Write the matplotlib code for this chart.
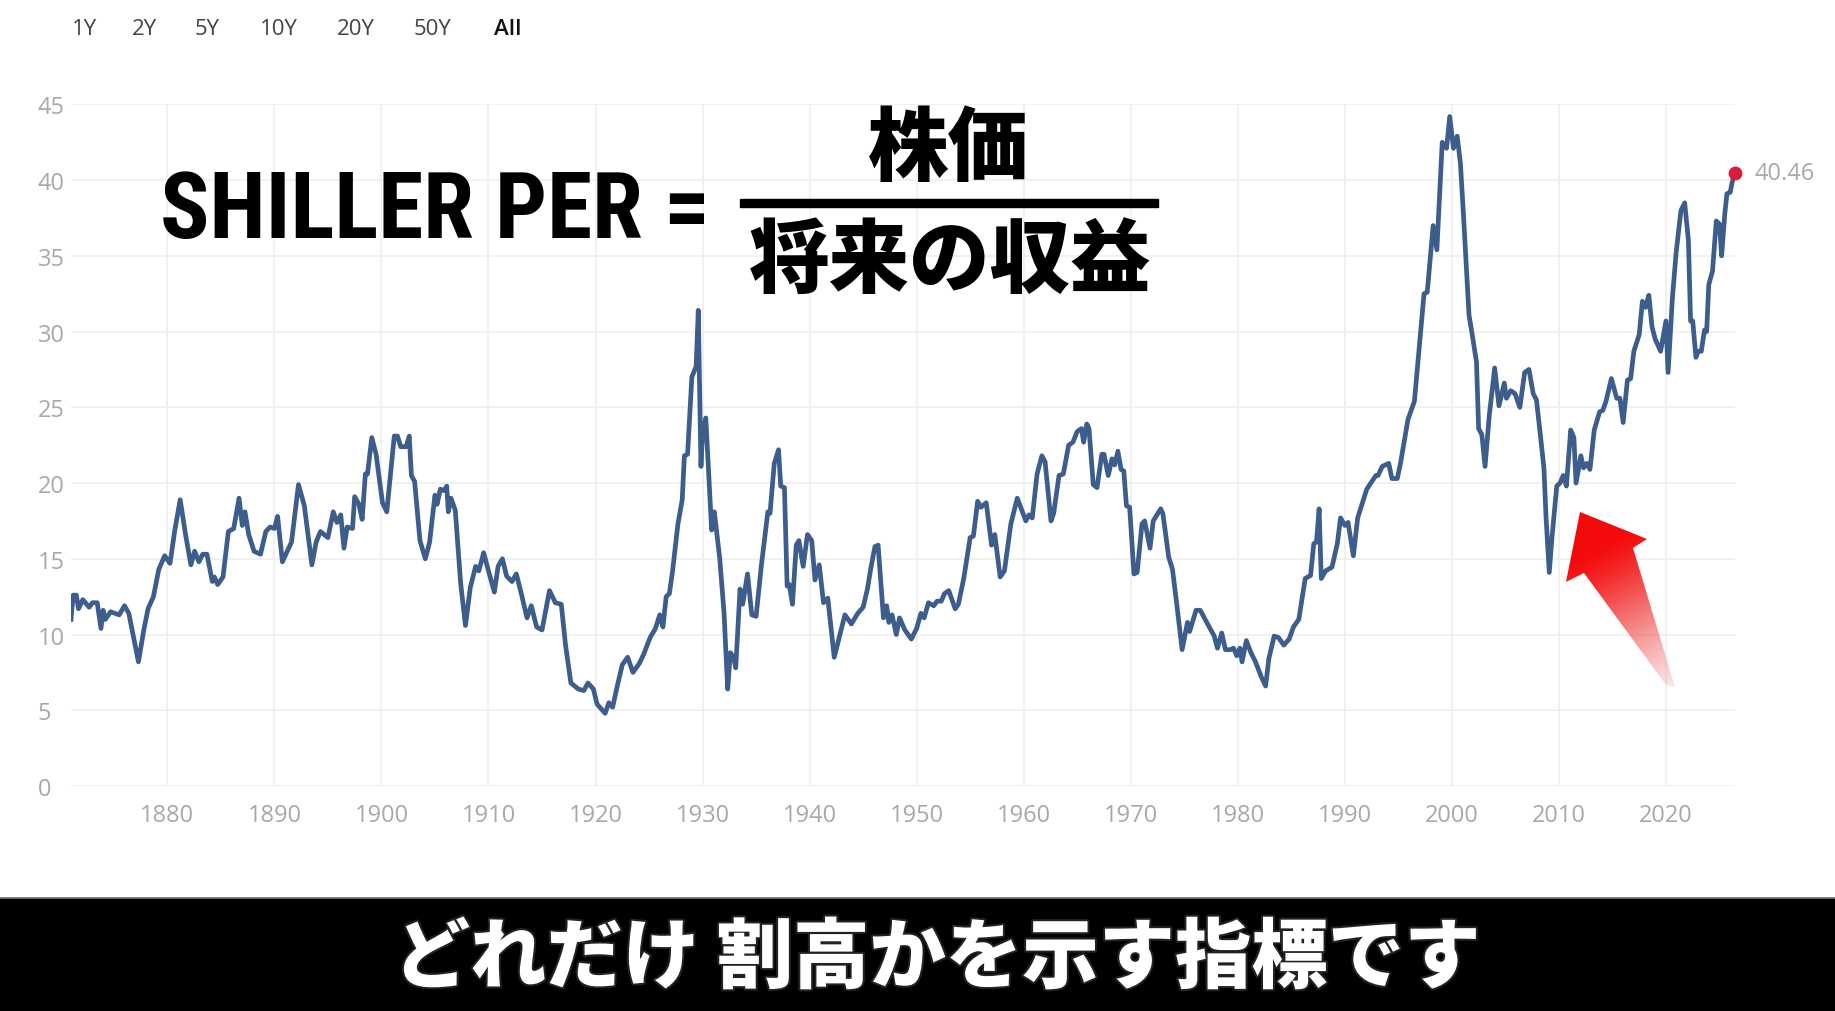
import matplotlib
matplotlib.use("Agg")
import matplotlib.pyplot as plt
import matplotlib.patheffects as pe
import numpy as np
from matplotlib.patches import Polygon, Rectangle

# Shiller CAPE (decimal year, value)
cape_years = [
    1871.0, 1871.2, 1871.5, 1871.7, 1872.1, 1872.7, 1873.0, 1873.45, 1873.8, 1874.0,
    1874.2, 1874.7, 1875.5, 1876.0, 1876.4, 1877.3, 1877.8, 1878.2, 1878.7, 1879.2,
    1879.75, 1880.25, 1880.7, 1881.2, 1881.7, 1882.2, 1882.55, 1882.95, 1883.3, 1883.7,
    1884.2, 1884.4, 1884.7, 1885.2, 1885.7, 1886.2, 1886.7, 1887.0, 1887.25, 1887.6,
    1888.1, 1888.7, 1889.2, 1889.6, 1890.0, 1890.3, 1890.75, 1891.2, 1891.6, 1892.25,
    1892.8, 1893.5, 1893.9, 1894.3, 1895.0, 1895.5, 1895.85, 1896.2, 1896.5, 1896.8,
    1897.3, 1897.5, 1897.9, 1898.2, 1898.5, 1898.7, 1899.1, 1899.5, 1900.1, 1900.5,
    1901.2, 1901.5, 1901.8, 1902.3, 1902.6, 1902.8, 1903.1, 1903.6, 1904.1, 1904.5,
    1905.0, 1905.2, 1905.5, 1905.85, 1906.1, 1906.25, 1906.5, 1906.9, 1907.4, 1907.85,
    1908.3, 1908.8, 1909.1, 1909.55, 1910.0, 1910.55, 1910.9, 1911.3, 1911.7, 1912.2,
    1912.6, 1913.0, 1913.6, 1914.0, 1914.5, 1915.0, 1915.7, 1916.25, 1916.8, 1917.2,
    1917.7, 1918.4, 1918.9, 1919.3, 1919.8, 1920.15, 1920.9, 1921.25, 1921.6, 1922.0,
    1922.5, 1923.0, 1923.5, 1924.1, 1924.5, 1925.1, 1925.6, 1926.0, 1926.3, 1926.6,
    1926.9, 1927.2, 1927.7, 1928.1, 1928.3, 1928.6, 1929.0, 1929.4, 1929.6, 1929.85,
    1930.0, 1930.3, 1930.85, 1931.1, 1931.6, 1932.0, 1932.35, 1932.6, 1932.9, 1933.1,
    1933.5, 1933.75, 1934.2, 1934.6, 1935.0, 1935.5, 1936.1, 1936.3, 1936.7, 1937.1,
    1937.3, 1937.65, 1937.9, 1938.1, 1938.4, 1938.75, 1939.0, 1939.4, 1939.8, 1940.2,
    1940.5, 1940.9, 1941.3, 1941.7, 1942.3, 1942.8, 1943.3, 1943.9, 1944.5, 1945.0,
    1945.4, 1945.7, 1946.1, 1946.4, 1946.9, 1947.2, 1947.4, 1947.7, 1948.1, 1948.4,
    1948.9, 1949.5, 1950.0, 1950.4, 1950.7, 1951.1, 1951.6, 1951.9, 1952.3, 1952.6,
    1953.0, 1953.6, 1953.9, 1954.4, 1955.0, 1955.3, 1955.7, 1956.0, 1956.5, 1957.0,
    1957.3, 1957.8, 1958.2, 1958.8, 1959.4, 1960.2, 1960.5, 1960.8, 1961.25, 1961.7,
    1962.0, 1962.55, 1962.8, 1963.3, 1963.7, 1964.2, 1964.6, 1965.0, 1965.4, 1965.6,
    1965.9, 1966.1, 1966.5, 1966.85, 1967.3, 1967.5, 1967.9, 1968.25, 1968.5, 1968.8,
    1969.1, 1969.35, 1969.6, 1969.9, 1970.3, 1970.6, 1971.05, 1971.3, 1971.8, 1972.1,
    1972.8, 1973.0, 1973.55, 1973.9, 1974.3, 1974.8, 1975.3, 1975.5, 1976.1, 1976.5,
    1977.1, 1977.8, 1978.1, 1978.5, 1978.85, 1979.3, 1979.6, 1979.9, 1980.2, 1980.4,
    1980.8, 1981.2, 1981.65, 1982.2, 1982.6, 1982.9, 1983.4, 1983.8, 1984.3, 1984.8,
    1985.2, 1985.7, 1986.3, 1986.8, 1987.1, 1987.35, 1987.6, 1987.8, 1988.2, 1988.8,
    1989.3, 1989.6, 1990.0, 1990.3, 1990.8, 1991.2, 1991.6, 1992.05, 1992.9, 1993.1,
    1993.5, 1994.1, 1994.4, 1994.9, 1995.2, 1995.9, 1996.5, 1997.0, 1997.4, 1997.7,
    1998.25, 1998.6, 1999.1, 1999.5, 1999.8, 2000.15, 2000.5, 2000.8, 2001.1, 2001.6,
    2001.9, 2002.3, 2002.5, 2002.8, 2003.1, 2003.5, 2004.0, 2004.4, 2004.9, 2005.1,
    2005.5, 2005.9, 2006.35, 2006.8, 2007.2, 2007.6, 2007.9, 2008.2, 2008.6, 2008.8,
    2009.1, 2009.35, 2009.8, 2010.1, 2010.4, 2010.7, 2011.1, 2011.4, 2011.6, 2012.05,
    2012.3, 2012.6, 2012.9, 2013.3, 2013.8, 2014.1, 2014.4, 2014.9, 2015.4, 2015.7,
    2016.0, 2016.4, 2016.7, 2017.0, 2017.5, 2017.8, 2018.1, 2018.4, 2018.7, 2019.0,
    2019.5, 2020.0, 2020.2, 2020.6, 2020.95, 2021.4, 2021.75, 2022.1, 2022.3, 2022.5,
    2022.8, 2023.0, 2023.3, 2023.6, 2023.8, 2024.0, 2024.35, 2024.7, 2025.0, 2025.2,
    2025.5, 2025.7, 2026.0, 2026.2, 2026.45,
]
cape_values = [
    11.0, 12.6, 12.6, 11.7, 12.3, 11.8, 12.1, 12.1, 10.4, 11.6,
    11.0, 11.5, 11.3, 11.9, 11.4, 8.2, 10.3, 11.7, 12.5, 14.3,
    15.2, 14.7, 16.9, 18.9, 16.6, 14.6, 15.5, 14.8, 15.3, 15.3,
    13.5, 13.8, 13.3, 13.8, 16.8, 17.0, 19.0, 17.2, 18.1, 16.6,
    15.5, 15.3, 16.8, 17.1, 17.0, 17.8, 14.8, 15.5, 16.1, 19.9,
    18.5, 14.6, 16.1, 16.8, 16.4, 18.1, 17.4, 17.9, 15.7, 17.1,
    17.0, 19.1, 18.6, 17.6, 20.6, 20.6, 23.0, 21.9, 18.7, 18.1,
    23.1, 23.1, 22.4, 22.4, 23.1, 20.5, 20.1, 16.2, 15.0, 16.1,
    19.2, 18.6, 19.6, 19.5, 19.8, 18.1, 19.0, 18.2, 13.4, 10.6,
    13.1, 14.5, 14.2, 15.4, 14.2, 12.8, 14.5, 15.0, 13.85, 13.5,
    14.0, 12.9, 11.1, 11.9, 10.5, 10.3, 12.9, 12.1, 12.0, 9.3,
    6.8, 6.4, 6.3, 6.8, 6.4, 5.4, 4.8, 5.5, 5.2, 6.5,
    8.0, 8.5, 7.5, 8.1, 8.7, 9.8, 10.4, 11.3, 10.5, 12.5,
    12.7, 14.2, 17.3, 18.9, 21.8, 21.9, 27.0, 27.7, 31.4, 21.1,
    23.3, 24.3, 16.9, 18.1, 15.05, 11.5, 6.4, 8.8, 8.5, 7.8,
    13.0, 12.0, 14.0, 11.3, 11.2, 14.6, 18.1, 18.0, 21.3, 22.2,
    19.8, 19.7, 13.2, 13.3, 12.0, 15.9, 16.2, 14.5, 16.6, 16.2,
    13.6, 14.6, 12.1, 12.4, 8.5, 9.9, 11.3, 10.7, 11.4, 11.8,
    13.0, 14.3, 15.8, 15.9, 11.1, 11.9, 10.8, 11.3, 10.0, 11.1,
    10.3, 9.7, 10.4, 11.4, 11.1, 12.1, 11.9, 12.2, 12.2, 12.7,
    12.9, 11.7, 12.0, 13.7, 16.4, 16.5, 18.8, 18.4, 18.7, 15.9,
    16.6, 13.8, 14.2, 17.3, 19.0, 17.5, 17.9, 17.7, 20.6, 21.8,
    21.4, 17.5, 18.0, 20.5, 20.6, 22.5, 22.7, 23.4, 23.6, 22.7,
    23.9, 23.6, 19.9, 19.7, 21.9, 21.9, 20.5, 21.6, 21.2, 22.1,
    20.9, 20.8, 18.5, 18.4, 14.0, 14.1, 17.3, 17.5, 15.7, 17.5,
    18.3, 18.0, 15.1, 14.3, 12.0, 9.0, 10.8, 10.2, 11.6, 11.6,
    10.8, 9.9, 9.1, 10.1, 9.0, 9.0, 9.1, 8.6, 9.1, 8.2,
    9.6, 8.85, 8.2, 7.2, 6.6, 8.4, 9.9, 9.8, 9.3, 9.7,
    10.5, 11.0, 13.7, 13.9, 16.0, 16.1, 18.3, 13.7, 14.2, 14.45,
    16.0, 17.7, 17.2, 17.4, 15.2, 17.7, 18.6, 19.6, 20.5, 20.5,
    21.1, 21.3, 20.3, 20.3, 21.3, 24.2, 25.4, 29.3, 32.5, 32.6,
    37.0, 35.4, 42.5, 42.1, 44.2, 42.1, 42.9, 41.1, 37.5, 31.1,
    29.8, 28.0, 23.6, 23.2, 21.1, 24.5, 27.6, 25.1, 26.6, 25.6,
    26.1, 25.9, 25.0, 27.3, 27.5, 25.9, 25.5, 23.6, 21.0, 17.7,
    14.1, 16.4, 19.8, 20.0, 20.5, 19.8, 23.5, 23.0, 20.0, 21.8,
    21.0, 21.3, 20.9, 23.5, 24.7, 24.8, 25.4, 26.9, 25.6, 25.6,
    24.0, 26.8, 26.9, 28.7, 29.8, 32.0, 31.6, 32.4, 30.3, 29.5,
    28.7, 30.7, 27.3, 32.2, 35.2, 38.0, 38.5, 36.0, 30.7, 30.7,
    28.3, 28.7, 28.7, 30.1, 30.0, 33.1, 34.0, 37.3, 37.1, 35.0,
    37.8, 39.1, 39.2, 39.9, 40.46,
]

x_ticks = [1880, 1890, 1900, 1910, 1920, 1930, 1940, 1950, 1960, 1970, 1980, 1990, 2000, 2010, 2020]
y_ticks = [0, 5, 10, 15, 20, 25, 30, 35, 40, 45]
range_buttons = ["1Y", "2Y", "5Y", "10Y", "20Y", "50Y", "All"]

title_left = "SHILLER PER ="
numerator = "株価"
denominator = "将来の収益"
caption = "どれだけ 割高かを示す指標です"

W, H = 1835, 1012
LINE = "#3d5d8c"
GRID = "#efefef"
TICK = "#a8a8a8"
JP = ["Noto Sans CJK JP", "DejaVu Sans"]

fig = plt.figure(figsize=(W / 100, H / 100), dpi=100)
fig.patch.set_facecolor("white")

ax = fig.add_axes([71 / W, 1 - 787 / H, (1735 - 71) / W, (787 - 105.4) / H])
ax.plot(cape_years, cape_values, color=LINE, lw=3.4, solid_joinstyle="round", zorder=3)
ax.plot(cape_years[-1], cape_values[-1], "o", color="#d81e3c", ms=9, zorder=4,
        clip_on=False)
ax.annotate(f"{cape_values[-1]:.2f}", (cape_years[-1], cape_values[-1]),
            xytext=(14, 0), textcoords="offset points", va="center", ha="left",
            color=TICK, fontsize=17, family="Open Sans", annotation_clip=False)

ax.set_xlim(cape_years[0], cape_years[-1])
ax.set_ylim(0, 45)
ax.set_xticks(x_ticks)
ax.set_yticks(y_ticks)
ax.grid(True, color=GRID, lw=1.2, zorder=0)
for s in ax.spines.values():
    s.set_visible(False)
ax.tick_params(length=0, labelsize=17, labelcolor=TICK)
ax.tick_params(axis="y", pad=24)
ax.tick_params(axis="x", pad=12)
for lbl in ax.get_yticklabels() + ax.get_xticklabels():
    lbl.set_family("Open Sans")
for lbl in ax.get_yticklabels():
    lbl.set_horizontalalignment("left")

# overlay in pixel coordinates for the video decorations
ov = fig.add_axes([0, 0, 1, 1], zorder=10)
ov.set_xlim(0, W)
ov.set_ylim(H, 0)
ov.axis("off")
ov.patch.set_alpha(0)

btn_x = [72, 132, 195, 260, 337, 414, 494]
for bx, b in zip(btn_x, range_buttons):
    ov.text(bx, 29, b, fontsize=16, family="Open Sans", va="center", ha="left",
            color="#111111" if b == "All" else "#444444",
            fontweight="semibold" if b == "All" else "normal")

ov.text(160, 238, title_left, fontsize=66, fontweight="bold", color="black",
        family=["Liberation Sans Narrow", "Roboto Condensed", "DejaVu Sans"],
        stretch="condensed", va="baseline", ha="left")

ov.text(948, 150, numerator, fontsize=58, fontweight="black", family=JP,
        va="center", ha="center", color="black")
ov.add_patch(Rectangle((740, 200), 418, 8, color="black"))
ov.text(950, 262, denominator, fontsize=58, fontweight="black", family=JP,
        va="center", ha="center", color="black")

# red arrow with a fade towards the tail
arrow_pts = np.array([[1580, 513], [1647, 540], [1633, 549], [1675, 688],
                      [1666, 686], [1584, 574], [1566, 583]])
arrow = Polygon(arrow_pts, closed=True, facecolor="none", edgecolor="none")
ov.add_patch(arrow)
gx, gy = np.meshgrid(np.linspace(1560, 1680, 120), np.linspace(505, 695, 190))
tip, tail = np.array([1580, 513]), np.array([1673, 687])
d = tail - tip
t = ((gx - tip[0]) * d[0] + (gy - tip[1]) * d[1]) / (d @ d)
t = np.clip((t - 0.2) / 0.8, 0, 1)
grad = np.zeros(gx.shape + (4,))
grad[..., 0] = 0.96 - 0.02 * t
grad[..., 1] = 0.04 + 0.62 * t ** 1.3
grad[..., 2] = 0.04 + 0.62 * t ** 1.3
grad[..., 3] = 1.0 - 0.7 * t ** 1.5
im = ov.imshow(grad, extent=(1560, 1680, 695, 505), origin="upper",
               interpolation="bilinear", zorder=11)
im.set_clip_path(arrow)
ov.set_xlim(0, W)
ov.set_ylim(H, 0)

# subtitle band
ov.add_patch(Rectangle((0, 899), W, H - 899, color="black", zorder=12))
ov.plot([0, W], [899, 899], color="#777777", lw=1.2, zorder=13)
ov.text(937, 960, caption, fontsize=55, fontweight="black", family=JP,
        color="white", va="center", ha="center", zorder=14,
        path_effects=[pe.withStroke(linewidth=3, foreground="#222222")])

fig.savefig("out.png", dpi=100, facecolor="white")
